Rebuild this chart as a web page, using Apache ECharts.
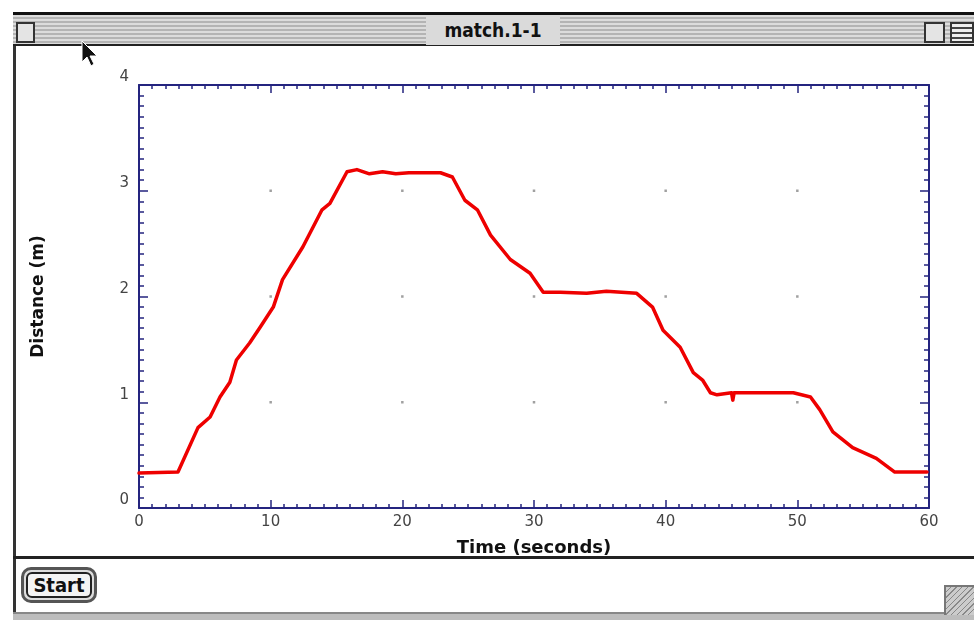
<!DOCTYPE html>
<html><head><meta charset="utf-8">
<script src="https://cdn.jsdelivr.net/npm/echarts@6/dist/echarts.min.js"></script>
<style>
html,body{margin:0;padding:0;background:#fff;}
#wrap{position:relative;width:974px;height:625px;overflow:hidden;background:#fff;font-family:"DejaVu Sans",sans-serif;}
.abs{position:absolute;}
#titlebar{left:13px;top:12px;width:961px;height:34px;border-top:3px solid #111;border-bottom:2px solid #222;
 background:repeating-linear-gradient(to bottom,#dcdcdc 0px,#dcdcdc 2px,#b4b4b4 2px,#b4b4b4 4px);box-sizing:border-box;}
#title{left:426px;top:15px;width:134px;height:30px;background:#dadada;text-align:center;font:bold 19px "DejaVu Sans Condensed","DejaVu Sans",sans-serif;line-height:30px;color:#111;}
#closebox{left:16px;top:22px;width:15px;height:17px;border:2px solid #333;background:#e4e4e4;}
#zoombox{left:924px;top:22px;width:17px;height:17px;border:2px solid #333;background:#e4e4e4;}
#zoombox2{left:950px;top:22px;width:20px;height:17px;border:2px solid #333;background:repeating-linear-gradient(to bottom,#eee 0,#eee 3px,#444 3px,#444 5px);}
#content{left:13px;top:46px;width:961px;height:574px;border-left:3px solid #333;box-sizing:border-box;background:#fff;}
#sep{left:13px;top:556px;width:961px;height:3px;background:#222;}
#bottombar{left:13px;top:612px;width:961px;height:8px;background:#bdbdbd;border-top:2px solid #888;box-sizing:border-box;}
#startbtn{left:21px;top:567px;width:76px;height:36px;border:3px solid #555;border-radius:10px;box-sizing:border-box;background:#ddd;}
#startin{left:26px;top:572px;width:66px;height:26px;border:2px solid #222;border-radius:6px;box-sizing:border-box;background:#f4f4f4;
 font:bold 20px "DejaVu Sans Condensed","DejaVu Sans",sans-serif;line-height:23px;text-align:center;color:#111;}
#resize{left:944px;top:585px;width:30px;height:30px;background:repeating-linear-gradient(135deg,#ccc 0,#ccc 3px,#888 3px,#888 4px);border-left:2px solid #777;border-top:2px solid #777;box-sizing:border-box;}
#chart{left:0;top:0;width:974px;height:625px;}
#cursor{left:80px;top:40px;}
</style></head>
<body>
<div id="wrap">
 <div class="abs" id="content"></div>
 <div class="abs" id="titlebar"></div>
 <div class="abs" id="title">match.1-1</div>
 <div class="abs" id="closebox"></div>
 <div class="abs" id="zoombox"></div>
 <div class="abs" id="zoombox2"></div>
 <div class="abs" id="sep"></div>
 <div class="abs" id="bottombar"></div>
 <div class="abs" id="resize"></div>
 <div class="abs" id="startbtn"></div>
 <div class="abs" id="startin">Start</div>
 <div class="abs" id="chart"></div>
 <svg class="abs" id="cursor" width="20" height="30"><polygon points="2,1 2,22 7,17 11,26 14,24 10,16 17,16" fill="#111" stroke="#fff" stroke-width="1"/></svg>
</div>
<script>
// Time (seconds)
const timeValues = [0, 2.96, 4.48, 5.4, 6.15, 6.9, 7.4, 8.4, 9.2, 10.2, 10.9, 12.45, 13.9, 14.5, 15.8, 16.55, 17.5, 18.5, 19.5, 20.5, 22.9, 23.8, 24.75, 25.7, 26.7, 28.2, 29.7, 30.7, 32, 34, 35.5, 37.8, 39.0, 39.8, 41.1, 42.1, 42.8, 43.4, 43.9, 45, 45.1, 45.2, 47, 49.7, 51.0, 51.7, 52.7, 54.2, 56.0, 57.4, 59.85];
// Distance (m)
const distanceValues = [0.33, 0.34, 0.76, 0.86, 1.05, 1.19, 1.40, 1.56, 1.71, 1.90, 2.16, 2.47, 2.82, 2.88, 3.18, 3.20, 3.16, 3.18, 3.16, 3.17, 3.17, 3.13, 2.91, 2.82, 2.58, 2.35, 2.22, 2.04, 2.04, 2.03, 2.05, 2.03, 1.90, 1.68, 1.52, 1.28, 1.21, 1.09, 1.07, 1.09, 1.02, 1.09, 1.09, 1.09, 1.05, 0.93, 0.72, 0.57, 0.47, 0.34, 0.34];
const xTicks = [0, 10, 20, 30, 40, 50, 60];
const yTicks = [0, 1, 2, 3, 4];
const gridDotX = [10, 20, 30, 40, 50];
const gridDotY = [1, 2, 3];

const lineData = timeValues.map((t, i) => [t, distanceValues[i]]);
const dots = [];
gridDotX.forEach(x => gridDotY.forEach(y => dots.push([x, y])));

const axisColor = '#24247f';
const labelColor = '#444';
const chart = echarts.init(document.getElementById('chart'), null, {renderer: 'canvas'});
const baseX = {
  type: 'value', min: xTicks[0], max: xTicks[xTicks.length - 1], interval: 10,
  axisLine: {show: true, onZero: false, lineStyle: {color: axisColor, width: 2}},
  axisTick: {show: true, inside: true, length: 8, lineStyle: {color: axisColor, width: 1.5}},
  minorTick: {show: true, splitNumber: 10, length: 4, lineStyle: {color: axisColor, width: 1.5}},
  splitLine: {show: false}
};
const baseY = {
  type: 'value', min: yTicks[0], max: yTicks[yTicks.length - 1], interval: 1,
  axisLine: {show: true, onZero: false, lineStyle: {color: axisColor, width: 2}},
  axisTick: {show: true, inside: true, length: 9, lineStyle: {color: axisColor, width: 1.5}},
  minorTick: {show: true, splitNumber: 10, length: 5, lineStyle: {color: axisColor, width: 1.5}},
  splitLine: {show: false}
};
chart.setOption({
  backgroundColor: 'transparent',
  animation: false,
  grid: {left: 139, right: 45, top: 85, bottom: 117, containLabel: false},
  xAxis: [
    Object.assign({}, baseX, {position: 'bottom',
      name: 'Time (seconds)', nameLocation: 'middle', nameGap: 31,
      nameTextStyle: {fontFamily: 'DejaVu Sans', fontWeight: 'bold', fontSize: 18, color: '#111'},
      axisLabel: {show: true, margin: 7, color: labelColor, fontSize: 15, fontFamily: 'DejaVu Sans'}}),
    Object.assign({}, baseX, {position: 'top', axisLabel: {show: false}})
  ],
  yAxis: [
    Object.assign({}, baseY, {position: 'left',
      name: 'Distance (m)', nameLocation: 'middle', nameGap: 92, nameRotate: 90,
      nameTextStyle: {fontFamily: 'DejaVu Sans', fontWeight: 'bold', fontSize: 17, color: '#111'},
      axisLabel: {show: true, margin: 10, color: labelColor, fontSize: 15, fontFamily: 'DejaVu Sans', verticalAlign: 'bottom', lineHeight: 15}}),
    Object.assign({}, baseY, {position: 'right', axisLabel: {show: false}})
  ],
  series: [
    {type: 'scatter', data: dots, symbol: 'rect', symbolSize: 2.5, itemStyle: {color: '#888'}, silent: true, z: 1},
    {type: 'line', data: lineData, showSymbol: false, smooth: false,
     lineStyle: {color: '#ee0000', width: 3.5, join: 'round', cap: 'round'}, z: 3}
  ]
});
</script>
</body></html>
